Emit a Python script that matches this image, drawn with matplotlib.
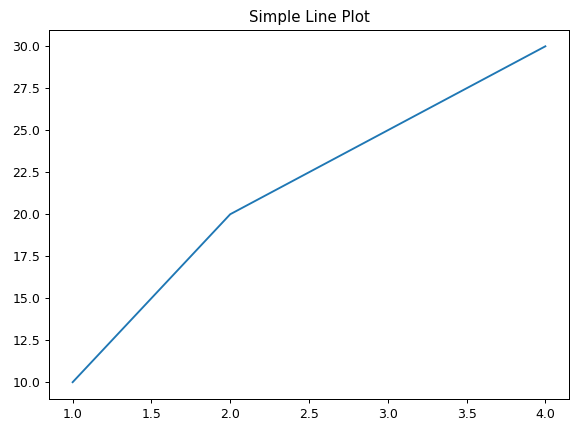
import matplotlib
matplotlib.use("Agg")
import matplotlib.pyplot as plt

x = [1, 2, 3, 4]
y = [10, 20, 25, 30]

fig = plt.figure(figsize=(579/90, 432/90), dpi=90)
W, H = 579, 432
left, right, top, bottom = 49, 569, 29.5, 399
ax = fig.add_axes([left/W, 1 - bottom/H, (right-left)/W, (bottom-top)/H])
ax.plot(x, y)
ax.set_title("Simple Line Plot")
fig.savefig("out.png", dpi=90)
